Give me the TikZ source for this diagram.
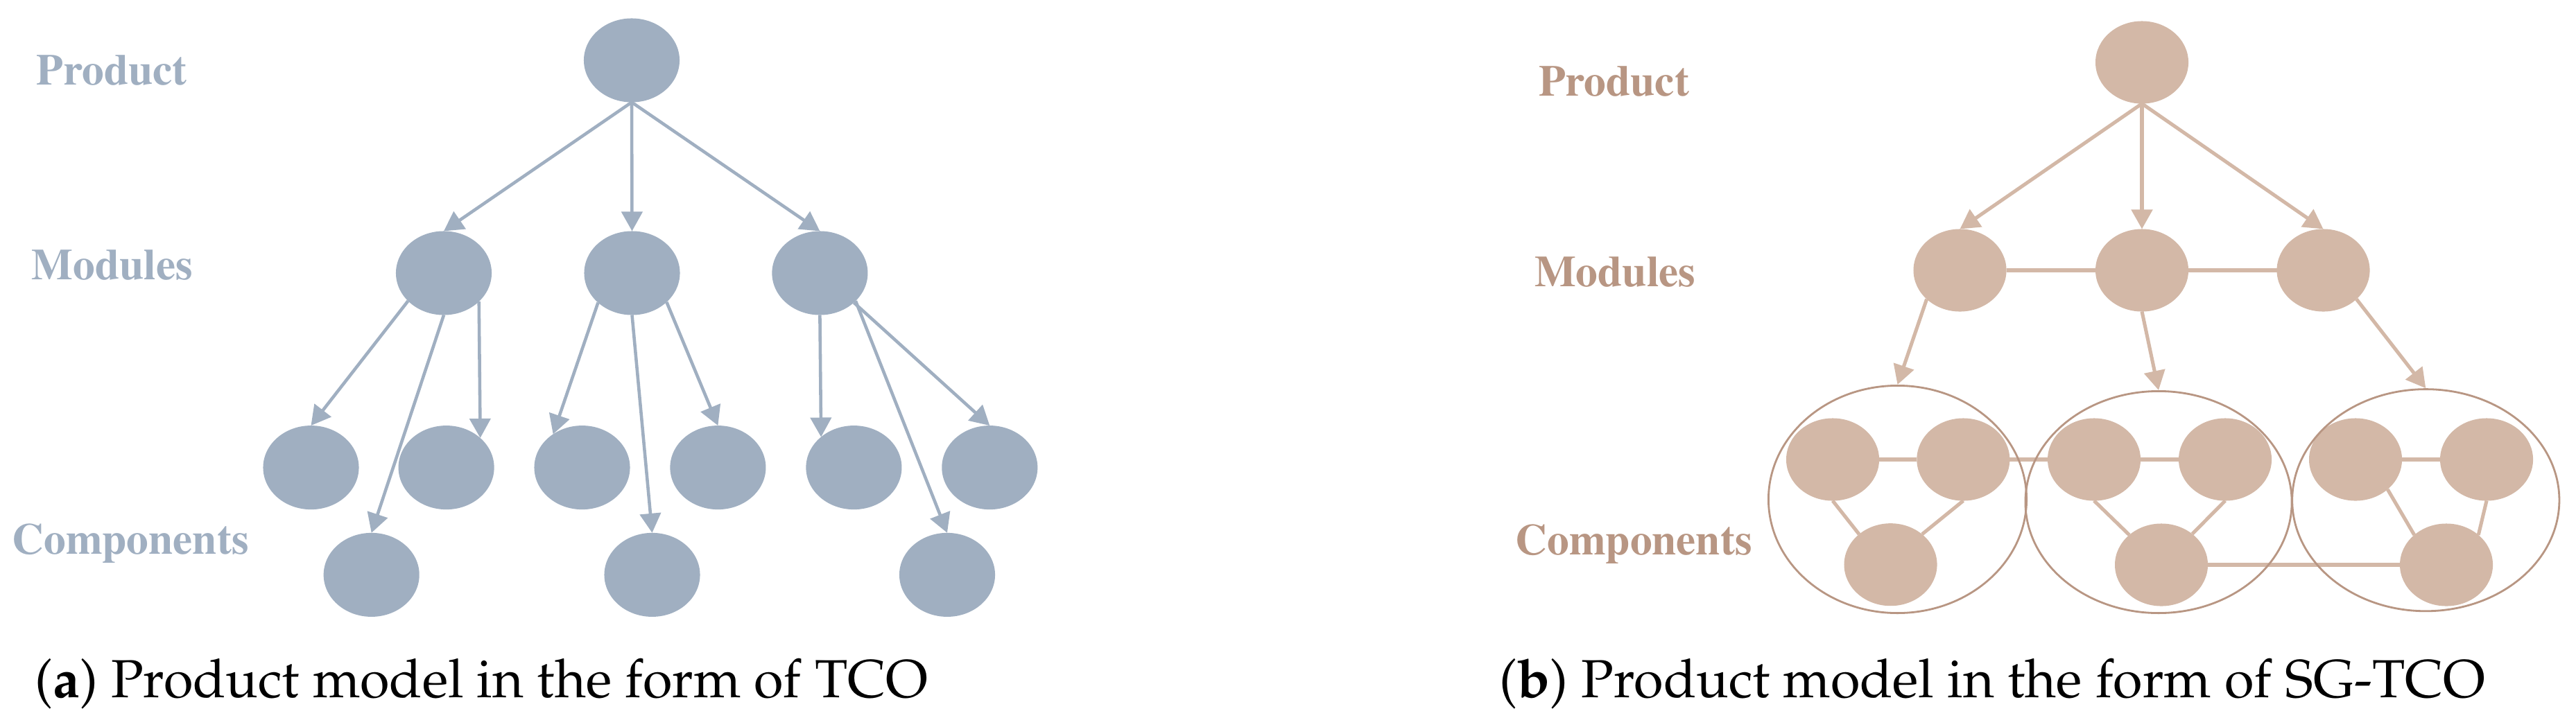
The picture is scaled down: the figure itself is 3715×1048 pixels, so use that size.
\documentclass[tikz,border=0pt]{standalone}
\usepackage[T1]{fontenc}
\usepackage{mathpazo}
\usepackage{tikz}
\usetikzlibrary{arrows.meta, shapes.geometric}
\usetikzlibrary{positioning}
\definecolor{tcoblue}{RGB}{160,175,193}
\definecolor{sgfill}{RGB}{211,184,167}
\definecolor{sgtext}{RGB}{184,150,131}
\pgfdeclarelayer{front}
\pgfsetlayers{main,front}

\begin{document}
\begin{tikzpicture}[x=0.01cm, y=-0.01cm,
	tnode/.style={ellipse, fill=tcoblue, minimum width=1.38cm, minimum height=1.21cm, inner sep=0pt, outer sep=0pt},
	snode/.style={ellipse, fill=sgfill, minimum width=1.34cm, minimum height=1.19cm, inner sep=0pt, outer sep=0pt},
	tarrow/.style={draw=tcoblue, line width=1.3pt, -{Triangle[length=0.28cm, width=0.3cm]}},
	sarrow/.style={draw=sgfill, line width=1.45pt, -{Triangle[length=0.28cm, width=0.3cm]}},
	sline/.style={draw=sgfill, line width=1.45pt},
	group/.style={ellipse, draw=sgtext, line width=0.8pt, inner sep=0pt},
	lbl/.style={anchor=base west, inner sep=0pt, font=\fontfamily{ptm}\bfseries\fontsize{18}{20}\selectfont},
	captext/.style={anchor=base west, inner sep=0pt, font=\fontsize{22}{26}\selectfont}]

	\useasboundingbox (0,0) rectangle (3715,1048);

	\node [lbl, text=tcoblue] (tlp) at (52,122) {Product};
	\node [lbl, text=tcoblue] (tlm) at (45,403) {Modules};
	\node [lbl, text=tcoblue] (tlc) at (17,799) {Components};

	\node [tnode] (tp) at (911,87) {};
	\node [tnode] (tm1) at (640,394) {};
	\node [tnode] (tm2) at (911.5,394) {};
	\node [tnode] (tm3) at (1182.4,394) {};
	\node [tnode] (tc1) at (448.5,674.6) {};
	\node [tnode] (tc2) at (643.6,674.6) {};
	\node [tnode] (tc3) at (839.5,674.6) {};
	\node [tnode] (tc4) at (1035.4,674.6) {};
	\node [tnode] (tc5) at (1231.4,674.6) {};
	\node [tnode] (tc6) at (1427.3,674.6) {};
	\node [tnode] (td1) at (535.7,829.4) {};
	\node [tnode] (td2) at (940.5,829.4) {};
	\node [tnode] (td3) at (1366,829.4) {};

	\draw [tarrow] (tp.south) -- (tm1.north);
	\draw [tarrow] (tp.south) -- (tm2.north);
	\draw [tarrow] (tp.south) -- (tm3.north);
	\draw [tarrow] (tm1.-142) -- (tc1.north);
	\draw [tarrow] (tm1.south) -- (td1.north);
	\draw [tarrow] (tm1.-39) -- (tc2.41);
	\draw [tarrow] (tm2.-139) -- (tc3.131);
	\draw [tarrow] (tm2.south) -- (td2.north);
	\draw [tarrow] (tm2.-40) -- (tc4.north);
	\draw [tarrow] (tm3.south) -- (tc5.137);
	\draw [tarrow] (tm3.-38) -- (td3.north);
	\draw [tarrow] (tm3.-41) -- (tc6.north);

	\node [captext] (capa) at (50,1006) {(\textbf{a}) Product model in the form of TCO};

	\node [lbl, text=sgtext] (slp) at (2218.5,138) {Product};
	\node [lbl, text=sgtext] (slm) at (2212.5,413) {Modules};
	\node [lbl, text=sgtext] (slc) at (2185,800) {Components};

	\node [snode] (sp) at (3089,90) {};
	\node [snode] (sm1) at (2826.5,390) {};
	\node [snode] (sm2) at (3089,390) {};
	\node [snode] (sm3) at (3350.5,390) {};
	\node [snode] (g1a) at (2643,663) {};
	\node [snode] (g1b) at (2831.3,663) {};
	\node [snode] (g1c) at (2726.5,814.7) {};
	\node [snode] (g2a) at (3020,663) {};
	\node [snode] (g2b) at (3209,663) {};
	\node [snode] (g2c) at (3117,815) {};
	\node [snode] (g3a) at (3397,663) {};
	\node [snode] (g3b) at (3586,663) {};
	\node [snode] (g3c) at (3528,815) {};

	\begin{pgfonlayer}{front}
		\node [group, minimum width=3.72cm, minimum height=3.28cm] (g1) at (2736.5,720.5) {};
		\node [group, minimum width=3.84cm, minimum height=3.2cm] (g2) at (3113,724.5) {};
		\node [group, minimum width=3.85cm, minimum height=3.2cm] (g3) at (3498.3,721.7) {};
	\end{pgfonlayer}

	\draw [sarrow] (sp.south) -- (sm1.north);
	\draw [sarrow] (sp.south) -- (sm2.north);
	\draw [sarrow] (sp.south) -- (sm3.north);
	\draw [sline] (sm1) -- (sm2);
	\draw [sline] (sm2) -- (sm3);
	\draw [sarrow] (sm1.-139) -- (g1.north);
	\draw [sarrow] (sm2.south) -- (g2.north);
	\draw [sarrow] (sm3.-41) -- (g3.north);

	\draw [sline] (g1a) -- (g1b);
	\draw [sline] (g1a.south) -- (g1c.136);
	\draw [sline] (g1b.south) -- (g1c.44);
	\draw [sline] (g1b) -- (g2a);
	\draw [sline] (g2a) -- (g2b);
	\draw [sline] (g2a.south) -- (g2c.137);
	\draw [sline] (g2b.south) -- (g2c.45);
	\draw [sline] (g2c) -- (g3c);
	\draw [sline] (g3a) -- (g3b);
	\draw [sline] (g3a.-43) -- (g3c.137);
	\draw [sline] (g3b.south) -- (g3c.43);

	\node [captext] (capb) at (2162,1006) {(\textbf{b}) Product model in the form of SG-TCO};
\end{tikzpicture}
\end{document}
